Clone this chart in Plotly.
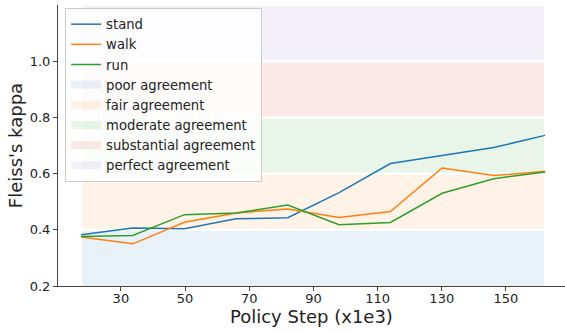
import plotly.graph_objects as go

# Policy steps (x1e3) and Fleiss's kappa per task
steps = [17.6, 33.7, 49.8, 65.9, 82.0, 98.0, 114.0, 130.1, 146.2, 162.2]
stand = [0.382, 0.406, 0.404, 0.439, 0.443, 0.532, 0.636, 0.664, 0.693, 0.736]
walk = [0.374, 0.350, 0.427, 0.460, 0.474, 0.444, 0.465, 0.620, 0.593, 0.608]
run = [0.376, 0.380, 0.454, 0.460, 0.488, 0.418, 0.426, 0.530, 0.582, 0.606]

# Agreement bands (Landis & Koch style)
band_names = ["poor agreement", "fair agreement", "moderate agreement",
              "substantial agreement", "perfect agreement"]
band_lo = [0.0, 0.4, 0.6, 0.8, 1.0]
band_hi = [0.4, 0.6, 0.8, 1.0, 1.2]
band_rgb = ["31,119,180", "255,127,14", "44,160,44", "214,39,40", "148,103,189"]

line_colors = ["#1f77b4", "#ff7f0e", "#2ca02c"]
series = [("stand", stand), ("walk", walk), ("run", run)]

font = "DejaVu Sans"
fig = go.Figure()

x0, x1 = min(steps), max(steps)
for i, (name, lo, hi, rgb) in enumerate(zip(band_names, band_lo, band_hi, band_rgb)):
    fill = f"rgba({rgb},0.1)"
    # shaded band with a thin white edge separating neighbours
    fig.add_trace(go.Scatter(
        x=[x0, x1, x1, x0, x0], y=[lo, lo, hi, hi, lo],
        mode="lines", fill="toself", fillcolor=fill,
        line=dict(color="white", width=2),
        name=name, legendgroup=name, showlegend=False, hoverinfo="skip",
    ))
    # legend swatch for the band (rectangular patch)
    fig.add_trace(go.Scatter(
        x=[None], y=[None], mode="lines",
        line=dict(color=fill, width=8),
        name=name, legendgroup=name, legendrank=10 + i,
    ))

for i, ((name, vals), c) in enumerate(zip(series, line_colors)):
    fig.add_trace(go.Scatter(
        x=steps, y=vals, mode="lines", name=name,
        line=dict(color=c, width=1.5), legendrank=1 + i,
    ))

fig.update_layout(
    width=565, height=332,
    margin=dict(l=58, r=0, t=5, b=46),
    paper_bgcolor="white", plot_bgcolor="white",
    font=dict(family=font, size=13, color="#222"),
    showlegend=True,
    legend=dict(
        x=0.014, y=0.989, xanchor="left", yanchor="top",
        bgcolor="rgba(255,255,255,0.8)", bordercolor="#cccccc", borderwidth=1,
        font=dict(family=font, size=13.2, color="#222"),
        tracegroupgap=0, itemwidth=30,
    ),
    xaxis=dict(
        range=[10.4, 168.4], tickvals=[30, 50, 70, 90, 110, 130, 150],
        showgrid=False, zeroline=False, showline=True, linecolor="#444", linewidth=1,
        ticks="outside", ticklen=4, tickcolor="#444", ticklabelstandoff=-4,
    ),
    yaxis=dict(
        range=[0.2, 1.2], tickvals=[0.2, 0.4, 0.6, 0.8, 1.0], tickformat=".1f",
        showgrid=False, zeroline=False, showline=True, linecolor="#444", linewidth=1,
        ticks="outside", ticklen=4, tickcolor="#444",
        title=dict(text="Fleiss's kappa", font=dict(size=18, family=font, color="#222"), standoff=2),
    ),
    annotations=[dict(
        text="Policy Step (x1e3)", xref="paper", yref="paper", x=0.5, y=0,
        xanchor="center", yanchor="top", yshift=-18, showarrow=False,
        font=dict(size=18, family=font, color="#222"),
    )],
)

fig.write_html("out.html")
